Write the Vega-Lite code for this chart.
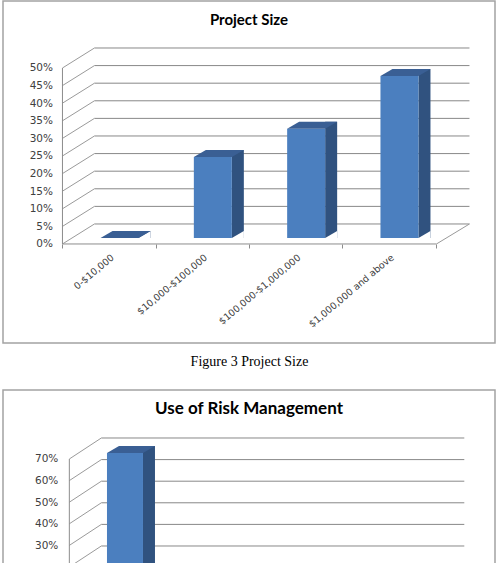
{
  "$schema": "https://vega.github.io/schema/vega-lite/v6.json",
  "background": "white",
  "padding": {"left": 2, "top": 0, "right": 0, "bottom": 0},
  "spacing": 20,
  "config": {"view": {"stroke": "#a3a3a3", "strokeWidth": 1.5}},
  "datasets": {
    "ps": [
      {"category": "0-$10,000", "share": 0},
      {"category": "$10,000-$100,000", "share": 0.23},
      {"category": "$100,000-$1,000,000", "share": 0.31},
      {"category": "$1,000,000 and above", "share": 0.46}
    ],
    "ps_ticks": [{"v": 0}, {"v": 0.05}, {"v": 0.1}, {"v": 0.15}, {"v": 0.2}, {"v": 0.25}, {"v": 0.3}, {"v": 0.35}, {"v": 0.4}, {"v": 0.45}, {"v": 0.5}],
    "rm": [{"category": "Yes", "share": 0.7}],
    "rm_ticks": [{"v": 0}, {"v": 0.1}, {"v": 0.2}, {"v": 0.3}, {"v": 0.4}, {"v": 0.5}, {"v": 0.6}, {"v": 0.7}]
  },
  "vconcat": [
    {
      "width": 492,
      "height": 342,
      "title": {"text": "Project Size", "offset": -39, "baseline": "alphabetic", "anchor": "middle", "font": "Lato", "fontSize": 15, "fontWeight": "bold", "color": "#000000"},
      "layer": [
        {
          "layer": [
            {
              "data": {"name": "ps_ticks"},
              "mark": {"type": "rule", "color": "#888888", "strokeWidth": 1, "xOffset": 32, "x2Offset": 33, "yOffset": -20},
              "encoding": {
                "x": {"datum": 0, "type": "quantitative", "scale": {"type": "linear", "domain": [-0.636, 4.626], "nice": false, "zero": false}, "axis": null},
                "x2": {"datum": 4},
                "y": {"field": "v", "type": "quantitative", "scale": {"domain": [-0.2813, 0.6903], "nice": false, "zero": false},
                  "axis": {"orient": "left", "offset": -59.5, "values": [0, 0.05, 0.1, 0.15, 0.2, 0.25, 0.3, 0.35, 0.4, 0.45, 0.5], "format": ".0%", "domain": false, "ticks": false, "grid": false, "labelFont": "DejaVu Sans", "labelFontSize": 10.5, "labelColor": "#404040", "labelPadding": 10, "title": null}}
              }
            },
            {
              "data": {"name": "ps_ticks"},
              "mark": {"type": "rule", "color": "#9a9a9a", "strokeWidth": 1, "x2Offset": 32, "y2Offset": -20},
              "encoding": {
                "x": {"datum": 0, "type": "quantitative", "axis": null},
                "x2": {"datum": 0},
                "y": {"field": "v", "type": "quantitative",
                  "axis": {"orient": "left", "offset": -59.5, "values": [0, 0.05, 0.1, 0.15, 0.2, 0.25, 0.3, 0.35, 0.4, 0.45, 0.5], "format": ".0%", "domain": false, "ticks": false, "grid": false, "labelFont": "DejaVu Sans", "labelFontSize": 10.5, "labelColor": "#404040", "labelPadding": 10, "title": null}},
                "y2": {"field": "v"}
              }
            },
            {
              "data": {"values": [{}]},
              "mark": {"type": "rule", "color": "#8c8c8c", "strokeWidth": 1},
              "encoding": {
                "x": {"datum": 0, "type": "quantitative", "axis": null},
                "y": {"datum": 0, "type": "quantitative",
                  "axis": {"orient": "left", "offset": -59.5, "values": [0, 0.05, 0.1, 0.15, 0.2, 0.25, 0.3, 0.35, 0.4, 0.45, 0.5], "format": ".0%", "domain": false, "ticks": false, "grid": false, "labelFont": "DejaVu Sans", "labelFontSize": 10.5, "labelColor": "#404040", "labelPadding": 10, "title": null}},
                "y2": {"datum": 0.5}
              }
            },
            {
              "data": {"values": [{}]},
              "mark": {"type": "rule", "color": "#8c8c8c", "strokeWidth": 1},
              "encoding": {
                "x": {"datum": 0, "type": "quantitative", "axis": null},
                "x2": {"datum": 4},
                "y": {"datum": 0, "type": "quantitative",
                  "axis": {"orient": "left", "offset": -59.5, "values": [0, 0.05, 0.1, 0.15, 0.2, 0.25, 0.3, 0.35, 0.4, 0.45, 0.5], "format": ".0%", "domain": false, "ticks": false, "grid": false, "labelFont": "DejaVu Sans", "labelFontSize": 10.5, "labelColor": "#404040", "labelPadding": 10, "title": null}}
              }
            },
            {
              "data": {"values": [{}]},
              "mark": {"type": "rule", "color": "#9a9a9a", "strokeWidth": 1, "x2Offset": 33, "y2Offset": -20},
              "encoding": {
                "x": {"datum": 4, "type": "quantitative", "axis": null},
                "x2": {"datum": 4},
                "y": {"datum": 0, "type": "quantitative",
                  "axis": {"orient": "left", "offset": -59.5, "values": [0, 0.05, 0.1, 0.15, 0.2, 0.25, 0.3, 0.35, 0.4, 0.45, 0.5], "format": ".0%", "domain": false, "ticks": false, "grid": false, "labelFont": "DejaVu Sans", "labelFontSize": 10.5, "labelColor": "#404040", "labelPadding": 10, "title": null}},
                "y2": {"datum": 0}
              }
            }
          ]
        },
        {
          "data": {"name": "ps"},
          "layer": [
            {
              "mark": {"type": "bar", "width": 12, "xOffset": 35.5, "yOffset": -13, "y2Offset": -6, "color": "#30527f"},
              "encoding": {
                "x": {"field": "category", "type": "nominal", "sort": null, "scale": {"type": "band", "paddingInner": 0, "paddingOuter": 0.6364},
                  "axis": {"orient": "bottom", "offset": -99, "domain": false, "grid": false, "tickBand": "extent", "tickSize": 4, "tickColor": "#8c8c8c", "labelAngle": -40, "labelFont": "DejaVu Sans", "labelFontSize": 9.5, "labelColor": "#404040", "labelPadding": 4, "title": "Figure 3 Project Size", "titleFont": "Liberation Serif", "titleFontSize": 14, "titleFontWeight": "normal", "titleColor": "#000000", "titleY": 121, "titleBaseline": "alphabetic"}},
                "y": {"field": "share", "type": "quantitative",
                  "axis": {"orient": "left", "offset": -59.5, "values": [0, 0.05, 0.1, 0.15, 0.2, 0.25, 0.3, 0.35, 0.4, 0.45, 0.5], "format": ".0%", "domain": false, "ticks": false, "grid": false, "labelFont": "DejaVu Sans", "labelFontSize": 10.5, "labelColor": "#404040", "labelPadding": 10, "title": null}},
                "y2": {"datum": 0}
              }
            },
            {
              "mark": {"type": "point", "shape": "M0,0L12,0L12,-7Z", "size": 4, "filled": true, "color": "#ffffff", "opacity": 1, "strokeWidth": 0, "xOffset": 29.5, "yOffset": -6},
              "encoding": {
                "x": {"field": "category", "type": "nominal", "sort": null,
                  "axis": {"orient": "bottom", "offset": -99, "domain": false, "grid": false, "tickBand": "extent", "tickSize": 4, "tickColor": "#8c8c8c", "labelAngle": -40, "labelFont": "DejaVu Sans", "labelFontSize": 9.5, "labelColor": "#404040", "labelPadding": 4, "title": "Figure 3 Project Size", "titleFont": "Liberation Serif", "titleFontSize": 14, "titleFontWeight": "normal", "titleColor": "#000000", "titleY": 121, "titleBaseline": "alphabetic"}},
                "y": {"datum": 0, "type": "quantitative",
                  "axis": {"orient": "left", "offset": -59.5, "values": [0, 0.05, 0.1, 0.15, 0.2, 0.25, 0.3, 0.35, 0.4, 0.45, 0.5], "format": ".0%", "domain": false, "ticks": false, "grid": false, "labelFont": "DejaVu Sans", "labelFontSize": 10.5, "labelColor": "#404040", "labelPadding": 10, "title": null}}
              }
            },
            {
              "mark": {"type": "bar", "width": 38, "xOffset": 10.5, "yOffset": -6, "y2Offset": -6, "color": "#4b7fbf"},
              "encoding": {
                "x": {"field": "category", "type": "nominal", "sort": null,
                  "axis": {"orient": "bottom", "offset": -99, "domain": false, "grid": false, "tickBand": "extent", "tickSize": 4, "tickColor": "#8c8c8c", "labelAngle": -40, "labelFont": "DejaVu Sans", "labelFontSize": 9.5, "labelColor": "#404040", "labelPadding": 4, "title": "Figure 3 Project Size", "titleFont": "Liberation Serif", "titleFontSize": 14, "titleFontWeight": "normal", "titleColor": "#000000", "titleY": 121, "titleBaseline": "alphabetic"}},
                "y": {"field": "share", "type": "quantitative",
                  "axis": {"orient": "left", "offset": -59.5, "values": [0, 0.05, 0.1, 0.15, 0.2, 0.25, 0.3, 0.35, 0.4, 0.45, 0.5], "format": ".0%", "domain": false, "ticks": false, "grid": false, "labelFont": "DejaVu Sans", "labelFontSize": 10.5, "labelColor": "#404040", "labelPadding": 10, "title": null}},
                "y2": {"datum": 0}
              }
            },
            {
              "mark": {"type": "point", "shape": "M0,0L38,0L50,-7L12,-7Z", "size": 4, "filled": true, "color": "#3a5f94", "opacity": 1, "strokeWidth": 0, "xOffset": -8.5, "yOffset": -6},
              "encoding": {
                "x": {"field": "category", "type": "nominal", "sort": null,
                  "axis": {"orient": "bottom", "offset": -99, "domain": false, "grid": false, "tickBand": "extent", "tickSize": 4, "tickColor": "#8c8c8c", "labelAngle": -40, "labelFont": "DejaVu Sans", "labelFontSize": 9.5, "labelColor": "#404040", "labelPadding": 4, "title": "Figure 3 Project Size", "titleFont": "Liberation Serif", "titleFontSize": 14, "titleFontWeight": "normal", "titleColor": "#000000", "titleY": 121, "titleBaseline": "alphabetic"}},
                "y": {"field": "share", "type": "quantitative",
                  "axis": {"orient": "left", "offset": -59.5, "values": [0, 0.05, 0.1, 0.15, 0.2, 0.25, 0.3, 0.35, 0.4, 0.45, 0.5], "format": ".0%", "domain": false, "ticks": false, "grid": false, "labelFont": "DejaVu Sans", "labelFontSize": 10.5, "labelColor": "#404040", "labelPadding": 10, "title": null}}
              }
            }
          ]
        }
      ],
      "resolve": {"scale": {"x": "independent"}}
    },
    {
      "width": 492,
      "height": 180,
      "title": {"text": "Use of Risk Management", "offset": -41, "baseline": "alphabetic", "anchor": "middle", "font": "Lato", "fontSize": 17, "fontWeight": "bold", "color": "#000000"},
      "layer": [
        {
          "layer": [
            {
              "data": {"name": "rm_ticks"},
              "mark": {"type": "rule", "color": "#888888", "strokeWidth": 1, "xOffset": 32, "x2Offset": 32, "yOffset": -21, "clip": true},
              "encoding": {
                "x": {"datum": 0, "type": "quantitative", "scale": {"type": "linear", "domain": [-0.731, 4.691], "nice": false, "zero": false}, "axis": null},
                "x2": {"datum": 4},
                "y": {"field": "v", "type": "quantitative", "scale": {"domain": [0.1861, 1.0194], "nice": false, "zero": false},
                  "axis": {"orient": "left", "offset": -66.3, "values": [0.3, 0.4, 0.5, 0.6, 0.7], "format": ".0%", "domain": false, "ticks": false, "grid": false, "labelFont": "DejaVu Sans", "labelFontSize": 10.5, "labelColor": "#404040", "labelPadding": 11.5, "title": null}}
              }
            },
            {
              "data": {"name": "rm_ticks"},
              "mark": {"type": "rule", "color": "#9a9a9a", "strokeWidth": 1, "x2Offset": 32, "y2Offset": -21, "clip": true},
              "encoding": {
                "x": {"datum": 0, "type": "quantitative", "axis": null},
                "x2": {"datum": 0},
                "y": {"field": "v", "type": "quantitative",
                  "axis": {"orient": "left", "offset": -66.3, "values": [0.3, 0.4, 0.5, 0.6, 0.7], "format": ".0%", "domain": false, "ticks": false, "grid": false, "labelFont": "DejaVu Sans", "labelFontSize": 10.5, "labelColor": "#404040", "labelPadding": 11.5, "title": null}},
                "y2": {"field": "v"}
              }
            },
            {
              "data": {"values": [{}]},
              "mark": {"type": "rule", "color": "#8c8c8c", "strokeWidth": 1, "clip": true},
              "encoding": {
                "x": {"datum": 0, "type": "quantitative", "axis": null},
                "y": {"datum": 0, "type": "quantitative",
                  "axis": {"orient": "left", "offset": -66.3, "values": [0.3, 0.4, 0.5, 0.6, 0.7], "format": ".0%", "domain": false, "ticks": false, "grid": false, "labelFont": "DejaVu Sans", "labelFontSize": 10.5, "labelColor": "#404040", "labelPadding": 11.5, "title": null}},
                "y2": {"datum": 0.7}
              }
            }
          ]
        },
        {
          "data": {"name": "rm"},
          "layer": [
            {
              "mark": {"type": "bar", "width": 12, "xOffset": 34.3, "yOffset": -13, "y2Offset": -6, "color": "#30527f", "clip": true},
              "encoding": {
                "x": {"field": "category", "type": "nominal", "sort": null, "scale": {"type": "band", "paddingInner": 0, "paddingOuter": 1, "align": 0.0905}, "axis": null},
                "y": {"field": "share", "type": "quantitative",
                  "axis": {"orient": "left", "offset": -66.3, "values": [0.3, 0.4, 0.5, 0.6, 0.7], "format": ".0%", "domain": false, "ticks": false, "grid": false, "labelFont": "DejaVu Sans", "labelFontSize": 10.5, "labelColor": "#404040", "labelPadding": 11.5, "title": null}},
                "y2": {"datum": 0}
              }
            },
            {
              "mark": {"type": "bar", "width": 36, "xOffset": 10.3, "yOffset": -6, "y2Offset": -6, "color": "#4b7fbf", "clip": true},
              "encoding": {
                "x": {"field": "category", "type": "nominal", "sort": null, "axis": null},
                "y": {"field": "share", "type": "quantitative",
                  "axis": {"orient": "left", "offset": -66.3, "values": [0.3, 0.4, 0.5, 0.6, 0.7], "format": ".0%", "domain": false, "ticks": false, "grid": false, "labelFont": "DejaVu Sans", "labelFontSize": 10.5, "labelColor": "#404040", "labelPadding": 11.5, "title": null}},
                "y2": {"datum": 0}
              }
            },
            {
              "mark": {"type": "point", "shape": "M0,0L36,0L48,-7L12,-7Z", "size": 4, "filled": true, "color": "#3a5f94", "opacity": 1, "strokeWidth": 0, "xOffset": -7.7, "yOffset": -6, "clip": true},
              "encoding": {
                "x": {"field": "category", "type": "nominal", "sort": null, "axis": null},
                "y": {"field": "share", "type": "quantitative",
                  "axis": {"orient": "left", "offset": -66.3, "values": [0.3, 0.4, 0.5, 0.6, 0.7], "format": ".0%", "domain": false, "ticks": false, "grid": false, "labelFont": "DejaVu Sans", "labelFontSize": 10.5, "labelColor": "#404040", "labelPadding": 11.5, "title": null}}
              }
            }
          ]
        }
      ],
      "resolve": {"scale": {"x": "independent"}}
    }
  ]
}
